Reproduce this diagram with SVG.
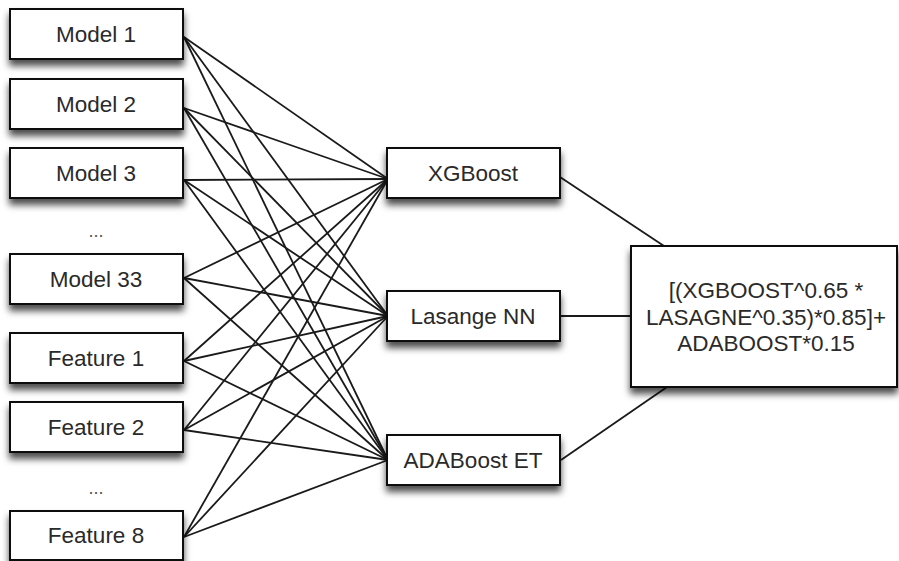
<svg xmlns="http://www.w3.org/2000/svg" width="899" height="561" viewBox="0 0 899 561">
<defs>
<filter id="sh" x="-10%" y="-20%" width="125%" height="170%">
<feDropShadow dx="0" dy="6" stdDeviation="3.5" flood-color="#000" flood-opacity="0.7"/>
</filter>
<style>
.box{fill:#fff;stroke:#111;stroke-width:2;filter:url(#sh)}
.t{font-family:"Liberation Sans",Arial,sans-serif;font-size:22.5px;fill:#2a2a2a;text-anchor:middle}
.dots{font-family:"Liberation Sans",Arial,sans-serif;font-size:18px;fill:#555;text-anchor:middle}
.c line{stroke:#1a1a1a;stroke-width:1.8;fill:none}
</style>
</defs>
<rect width="899" height="561" fill="#fff"/>
<g id="connectors" class="c">
<line x1="184" y1="37" x2="388" y2="179"/>
<line x1="184" y1="37" x2="388" y2="316"/>
<line x1="184" y1="37" x2="388" y2="460"/>
<line x1="184" y1="108" x2="388" y2="179"/>
<line x1="184" y1="108" x2="388" y2="316"/>
<line x1="184" y1="108" x2="388" y2="460"/>
<line x1="184" y1="180" x2="388" y2="179"/>
<line x1="184" y1="180" x2="388" y2="316"/>
<line x1="184" y1="180" x2="388" y2="460"/>
<line x1="184" y1="278" x2="388" y2="179"/>
<line x1="184" y1="278" x2="388" y2="316"/>
<line x1="184" y1="278" x2="388" y2="460"/>
<line x1="184" y1="361" x2="388" y2="179"/>
<line x1="184" y1="361" x2="388" y2="316"/>
<line x1="184" y1="361" x2="388" y2="460"/>
<line x1="184" y1="430" x2="388" y2="179"/>
<line x1="184" y1="430" x2="388" y2="316"/>
<line x1="184" y1="430" x2="388" y2="460"/>
<line x1="184" y1="537" x2="388" y2="179"/>
<line x1="184" y1="537" x2="388" y2="316"/>
<line x1="184" y1="537" x2="388" y2="460"/>
<line x1="560" y1="177" x2="664" y2="246"/>
<line x1="560" y1="316" x2="631" y2="316"/>
<line x1="561" y1="460" x2="667" y2="387"/>
</g>
<g id="model1"><rect class="box" x="10" y="9" width="173" height="50"/><text class="t" x="96" y="42">Model 1</text></g>
<g id="model2"><rect class="box" x="10" y="79" width="173" height="50"/><text class="t" x="96" y="112">Model 2</text></g>
<g id="model3"><rect class="box" x="10" y="148" width="173" height="50"/><text class="t" x="96" y="181">Model 3</text></g>
<text class="dots" x="96" y="237">...</text>
<g id="model33"><rect class="box" x="10" y="254" width="173" height="50"/><text class="t" x="96" y="287">Model 33</text></g>
<g id="feature1"><rect class="box" x="10" y="333" width="173" height="50"/><text class="t" x="96" y="366">Feature 1</text></g>
<g id="feature2"><rect class="box" x="10" y="402" width="173" height="50"/><text class="t" x="96" y="435">Feature 2</text></g>
<text class="dots" x="96" y="494">...</text>
<g id="feature8"><rect class="box" x="10" y="511" width="173" height="49"/><text class="t" x="96" y="543">Feature 8</text></g>
<g id="xgboost"><rect class="box" x="387" y="148" width="173" height="50"/><text class="t" x="473" y="181">XGBoost</text></g>
<g id="lasange"><rect class="box" x="387" y="291" width="173" height="50"/><text class="t" x="473" y="324">Lasange NN</text></g>
<g id="adaboost"><rect class="box" x="387" y="435" width="173" height="50"/><text class="t" x="473" y="468">ADABoost ET</text></g>
<g id="blend"><rect class="box" x="631" y="246" width="266" height="141"/>
<text class="t" x="766" y="298">[(XGBOOST^0.65 *</text>
<text class="t" x="766" y="324.5">LASAGNE^0.35)*0.85]+</text>
<text class="t" x="766" y="351">ADABOOST*0.15</text>
</g>
</svg>
